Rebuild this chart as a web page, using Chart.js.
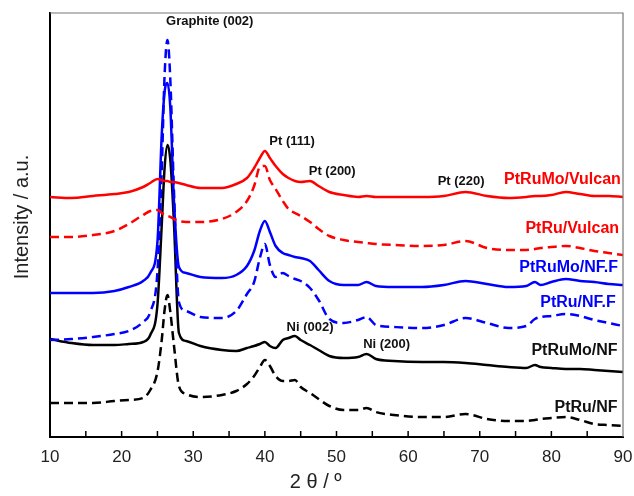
<!DOCTYPE html>
<html>
<head>
<meta charset="utf-8">
<script src="https://cdn.jsdelivr.net/npm/chart.js@4/dist/chart.umd.min.js"></script>
<style>
  body { margin: 0; background: #fff; }
  canvas { display: block; }
</style>
</head>
<body>
<canvas id="xrdChart" width="634" height="496"></canvas>
<script>
// 2θ positions (degrees) shared by all patterns
const twoTheta = [10, 13, 16, 19, 21, 23, 24, 25, 25.6, 26, 26.4, 26.8, 27.3, 28, 29, 31, 34, 36, 37.5, 38.5,
  39.3, 40, 40.7, 41.5, 42.5, 43.3, 44.2, 45, 46.3, 47.5, 49, 51, 53, 54.2, 55.5, 58, 62, 65, 68, 71,
  74, 76.5, 77.7, 78.5, 80, 82, 84, 86, 88, 90];

// stacked intensities (a.u., offset per sample)
const ptRuMoVulcan = [240, 239, 241, 243, 245, 250, 254, 258, 257, 256, 256, 255, 255, 254, 252, 249, 249, 253, 259, 269,
  279, 286, 279, 271, 263, 259, 256, 255, 256, 251, 245, 242, 240, 241, 240, 240, 240, 241, 245, 241,
  239, 240, 241, 241, 242, 245, 243, 241, 241, 240];
const ptRuVulcan = [200, 200, 202, 206, 213, 222, 226, 227, 224, 222, 221, 220, 218, 216, 215, 215, 218, 225, 236, 251,
  270, 271, 257, 248, 236, 228, 224, 221, 215, 208, 201, 197, 195, 194, 193, 192, 191, 192, 196, 189,
  187, 187, 188, 189, 190, 191, 189, 186, 184, 182];
const ptRuMoNFF = [144, 144, 144, 146, 150, 156, 164, 195, 302, 345, 354, 329, 237, 170, 164, 160, 159, 162, 171, 186,
  206, 216, 205, 191, 184, 182, 180, 179, 176, 167, 156, 152, 152, 155, 151, 150, 150, 152, 156, 153,
  150, 151, 155, 152, 155, 158, 156, 155, 153, 152];
const ptRuNFF = [97, 98, 100, 103, 106, 115, 125, 165, 267, 362, 397, 357, 247, 135, 126, 120, 119, 126, 143, 155,
  179, 193, 172, 160, 164, 161, 158, 156, 149, 137, 118, 114, 117, 120, 112, 110, 109, 112, 119, 114,
  109, 111, 118, 120, 121, 123, 121, 117, 114, 111];
const ptRuMoNF = [98, 94, 92, 92, 93, 95, 102, 132, 212, 269, 292, 277, 215, 104, 96, 91, 87, 86, 89, 91,
  93, 95, 91, 89, 97, 99, 101, 97, 92, 87, 81, 79, 80, 83, 78, 76, 75, 75, 74, 72,
  70, 69, 72, 70, 69, 68, 68, 67, 66, 65];
const ptRuNF = [34, 34, 34, 36, 37, 39, 47, 65, 97, 127, 142, 125, 92, 51, 43, 40, 42, 46, 53, 61,
  70, 77, 71, 61, 56, 56, 57, 50, 44, 38, 31, 27, 27, 29, 25, 22, 20, 20, 23, 18,
  16, 16, 17, 18, 19, 20, 17, 13, 12, 11];

const xTicks = [10, 20, 30, 40, 50, 60, 70, 80, 90];

const FONT = '"Liberation Sans", Arial, sans-serif';
const DASH = [9, 5];

const series = [
  { name: 'PtRuMo/Vulcan', data: ptRuMoVulcan, color: '#ff0000', dash: [], label: [89.7, 257] },
  { name: 'PtRu/Vulcan', data: ptRuVulcan, color: '#ff0000', dash: DASH, label: [89.45, 208] },
  { name: 'PtRuMo/NF.F', data: ptRuMoNFF, color: '#0000ff', dash: [], label: [89.3, 169.5] },
  { name: 'PtRu/NF.F', data: ptRuNFF, color: '#0000ff', dash: DASH, label: [89.0, 134.5] },
  { name: 'PtRuMo/NF', data: ptRuMoNF, color: '#000000', dash: [], label: [89.25, 86] },
  { name: 'PtRu/NF', data: ptRuNF, color: '#000000', dash: DASH, label: [89.25, 29.5] }
];

// reflection labels: text, 2θ, height
const peakNotes = [
  ['Graphite (002)', 32.3, 416],
  ['Pt (111)', 43.8, 296],
  ['Pt (200)', 49.4, 266],
  ['Pt (220)', 67.4, 256],
  ['Ni (002)', 46.3, 110],
  ['Ni (200)', 57.0, 93]
];

const datasets = series.map(s => ({
  label: s.name,
  data: twoTheta.map((x, i) => ({ x: x, y: s.data[i] })),
  borderColor: s.color,
  borderWidth: 2.5,
  borderDash: s.dash,
  pointRadius: 0,
  fill: false,
  cubicInterpolationMode: 'monotone'
}));

// inner ticks, frame, axis titles and text labels
const decor = {
  id: 'decor',
  afterDraw(chart) {
    const { ctx, chartArea: a, scales: { x, y } } = chart;
    ctx.save();
    ctx.strokeStyle = '#000';
    ctx.lineWidth = 1.5;
    for (let v = 15; v < 90; v += 5) {
      const px = x.getPixelForValue(v);
      ctx.beginPath();
      ctx.moveTo(px, a.bottom);
      ctx.lineTo(px, a.bottom - 6);
      ctx.stroke();
    }
    ctx.strokeStyle = '#777';
    ctx.lineWidth = 1.2;
    ctx.beginPath();
    ctx.moveTo(a.left, a.top);
    ctx.lineTo(a.right, a.top);
    ctx.lineTo(a.right, a.bottom);
    ctx.stroke();

    ctx.textBaseline = 'middle';
    ctx.textAlign = 'center';
    ctx.fillStyle = '#222';
    ctx.font = '20px ' + FONT;
    ctx.fillText('2 θ / º', x.getPixelForValue(47.1), 482);
    ctx.save();
    ctx.translate(22, y.getPixelForValue(220));
    ctx.rotate(-Math.PI / 2);
    ctx.fillText('Intensity / a.u.', 0, 0);
    ctx.restore();

    ctx.fillStyle = '#111';
    ctx.font = 'bold 13px ' + FONT;
    peakNotes.forEach(([t, px, py]) => {
      ctx.fillText(t, x.getPixelForValue(px), y.getPixelForValue(py));
    });

    ctx.textAlign = 'right';
    ctx.font = 'bold 16px ' + FONT;
    series.forEach(s => {
      ctx.fillStyle = s.color === '#000000' ? '#111' : s.color;
      ctx.fillText(s.name, x.getPixelForValue(s.label[0]), y.getPixelForValue(s.label[1]));
    });
    ctx.restore();
  }
};

new Chart(document.getElementById('xrdChart'), {
  type: 'line',
  data: { datasets: datasets },
  options: {
    responsive: false,
    animation: false,
    layout: { padding: { left: 0, right: 11, top: 13, bottom: 0 } },
    plugins: { legend: { display: false }, tooltip: { enabled: false } },
    scales: {
      x: {
        type: 'linear',
        min: 10,
        max: 90,
        afterBuildTicks: s => { s.ticks = xTicks.map(v => ({ value: v })); },
        afterFit: s => { s.height = 59; s.paddingLeft = 0; s.paddingRight = 0; },
        grid: { display: false, drawTicks: false },
        border: { color: '#000', width: 2 },
        ticks: { padding: 10, color: '#222', font: { family: FONT, size: 17 } }
      },
      y: {
        min: 0,
        max: 424,
        afterFit: s => { s.width = 50; },
        grid: { display: false, drawTicks: false },
        border: { color: '#000', width: 2 },
        ticks: { display: false }
      }
    }
  },
  plugins: [decor]
});
</script>
</body>
</html>
